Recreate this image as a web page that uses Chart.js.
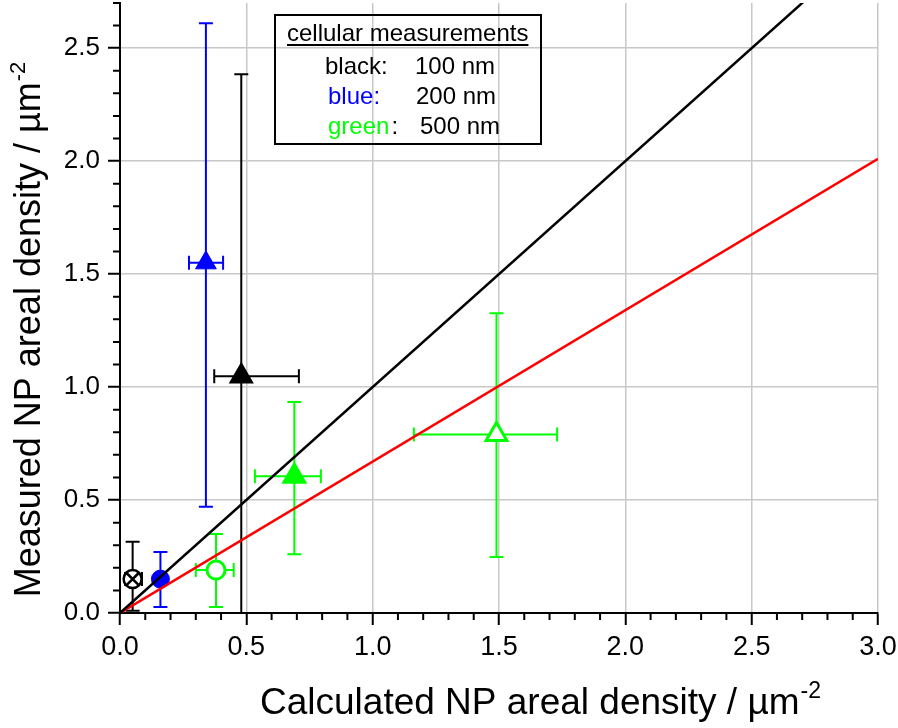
<!DOCTYPE html>
<html>
<head>
<meta charset="utf-8">
<script src="https://cdn.jsdelivr.net/npm/chart.js@4.4.1/dist/chart.umd.min.js"></script>
<style>
  html, body { margin: 0; padding: 0; background: #fff; }
  #wrap { width: 898px; height: 728px; }
</style>
</head>
<body>
<div id="wrap"><canvas id="myChart" width="898" height="728"></canvas></div>
<script>
// reference lines
const lineX = [0, 3.0];
const unityY = [0, 3.0];
const fitY = [0, 2.01];

// black: 100 nm
const blackX = [0.05, 0.48];
const blackY = [0.15, 1.048];
const blackXLo = [0.02, 0.373];
const blackXHi = [0.087, 0.708];
const blackYLo = [0.01, 0.0];
const blackYHi = [0.315, 2.385];

// blue: 200 nm
const blueX = [0.16, 0.34];
const blueY = [0.15, 1.55];
const blueXLo = [0.16, 0.273];
const blueXHi = [0.16, 0.408];
const blueYLo = [0.027, 0.47];
const blueYHi = [0.27, 2.61];

// green: 500 nm
const greenX = [0.38, 0.69, 1.49];
const greenY = [0.19, 0.605, 0.79];
const greenXLo = [0.30, 0.534, 1.163];
const greenXHi = [0.45, 0.795, 1.73];
const greenYLo = [0.027, 0.26, 0.248];
const greenYHi = [0.35, 0.934, 1.327];

const xTicks = [0, 0.5, 1.0, 1.5, 2.0, 2.5, 3.0];
const yTicks = [0, 0.5, 1.0, 1.5, 2.0, 2.5];

const FONT = "'Liberation Sans', Arial, sans-serif";

function pts(xs, ys) {
    return xs.map((x, i) => ({ x: x, y: ys[i] }));
}

// error bars, drawn under the markers
const errorBars = {
    id: 'errorBars',
    beforeDatasetsDraw(chart) {
        const ctx = chart.ctx;
        const xs = chart.scales.x, ys = chart.scales.y;
        chart.data.datasets.forEach(ds => {
            if (!ds.errors) return;
            const e = ds.errors;
            ctx.save();
            ctx.strokeStyle = ds.borderColor;
            ctx.lineWidth = 2;
            ds.data.forEach((p, i) => {
                const px = xs.getPixelForValue(p.x);
                const py = ys.getPixelForValue(p.y);
                const cap = 7;
                // vertical
                const yl = ys.getPixelForValue(e.yLo[i]);
                const yh = ys.getPixelForValue(e.yHi[i]);
                ctx.beginPath();
                ctx.moveTo(px, yl); ctx.lineTo(px, yh);
                ctx.moveTo(px - cap, yl); ctx.lineTo(px + cap, yl);
                ctx.moveTo(px - cap, yh); ctx.lineTo(px + cap, yh);
                ctx.stroke();
                // horizontal
                if (e.xHi[i] - e.xLo[i] > 0.001) {
                    const xl = xs.getPixelForValue(e.xLo[i]);
                    const xh = xs.getPixelForValue(e.xHi[i]);
                    ctx.beginPath();
                    ctx.moveTo(xl, py); ctx.lineTo(xh, py);
                    ctx.moveTo(xl, py - cap); ctx.lineTo(xl, py + cap);
                    ctx.moveTo(xh, py - cap); ctx.lineTo(xh, py + cap);
                    ctx.stroke();
                }
            });
            ctx.restore();
        });
    }
};

// minor ticks every 0.1, titles with superscript, legend box
const decorations = {
    id: 'decorations',
    afterDraw(chart) {
        const ctx = chart.ctx;
        const xs = chart.scales.x, ys = chart.scales.y;
        const area = chart.chartArea;
        ctx.save();
        ctx.strokeStyle = '#000';
        ctx.lineWidth = 2;
        ctx.beginPath();
        for (let k = 1; k < 30; k++) {
            if (k % 5 === 0) continue;
            const px = xs.getPixelForValue(k / 10);
            ctx.moveTo(px, area.bottom); ctx.lineTo(px, area.bottom + 7);
        }
        for (let k = 1; k < 28; k++) {
            if (k % 5 === 0) continue;
            const py = ys.getPixelForValue(k / 10);
            ctx.moveTo(area.left, py); ctx.lineTo(area.left - 7, py);
        }
        ctx.stroke();

        // axis titles
        ctx.fillStyle = '#000';
        ctx.textBaseline = 'alphabetic';
        ctx.textAlign = 'left';
        function drawTitle(t, x0, y0, size) {
            const mainFont = size + 'px ' + FONT, supFont = Math.round(size * 0.62) + 'px ' + FONT;
            ctx.font = mainFont; const a = ctx.measureText(t).width;
            ctx.font = supFont; const b = ctx.measureText('-2').width;
            const start = x0 - (a + b) / 2;
            ctx.font = mainFont; ctx.fillText(t, start, y0);
            ctx.font = supFont; ctx.fillText('-2', start + a + 1, y0 - size * 0.42);
        }
        drawTitle('Calculated NP areal density / \u00b5m', 540, 714, 37);
        ctx.save();
        ctx.translate(40, 330);
        ctx.rotate(-Math.PI / 2);
        drawTitle('Measured NP areal density / \u00b5m', 0, 0, 36);
        ctx.restore();

        // legend box
        ctx.lineWidth = 2;
        ctx.strokeRect(275, 15, 266, 129);
        ctx.font = '24px ' + FONT;
        ctx.fillStyle = '#000';
        ctx.fillText('cellular measurements', 287, 41);
        const uw = ctx.measureText('cellular measurements').width;
        ctx.fillRect(287, 44, uw, 2);
        ctx.fillText('black:', 325, 74);
        ctx.fillText('100 nm', 415, 74);
        ctx.fillStyle = '#0000ff';
        ctx.fillText('blue:', 328, 104);
        ctx.fillStyle = '#000';
        ctx.fillText('200 nm', 416, 104);
        ctx.fillStyle = '#00ff00';
        ctx.fillText('green', 328, 134);
        const gw = ctx.measureText('green').width;
        ctx.fillStyle = '#000';
        ctx.fillText(':', 328 + gw + 2, 134);
        ctx.fillText('500 nm', 420, 134);
        ctx.restore();
    }
};

function loadChart() {
    const ctx = document.getElementById('myChart').getContext('2d');
    new Chart(ctx, {
        type: 'scatter',
        data: {
            datasets: [
                {
                    data: pts(lineX, unityY), showLine: true, pointRadius: 0,
                    borderColor: '#000', borderWidth: 2.5, clip: 0
                },
                {
                    data: pts(lineX, fitY), showLine: true, pointRadius: 0,
                    borderColor: '#ff0000', borderWidth: 2.5, clip: 0
                },
                {
                    data: pts([blackX[0]], [blackY[0]]), pointStyle: 'crossRot',
                    pointRadius: 9, borderColor: '#000', borderWidth: 2.5
                },
                {
                    data: pts(blackX, blackY),
                    pointStyle: ['circle', 'triangle'], pointRadius: [9, 12],
                    backgroundColor: ['#fff', '#000'], borderColor: '#000', borderWidth: 2.5,
                    errors: { xLo: blackXLo, xHi: blackXHi, yLo: blackYLo, yHi: blackYHi }
                },
                {
                    data: pts(blueX, blueY),
                    pointStyle: ['circle', 'triangle'], pointRadius: [9, 12],
                    backgroundColor: '#0000ff', borderColor: '#0000ff', borderWidth: 1,
                    errors: { xLo: blueXLo, xHi: blueXHi, yLo: blueYLo, yHi: blueYHi }
                },
                {
                    data: pts(greenX, greenY),
                    pointStyle: ['circle', 'triangle', 'triangle'], pointRadius: [9, 12, 12],
                    backgroundColor: ['#fff', '#00ff00', '#fff'], borderColor: '#00ff00', borderWidth: 3,
                    errors: { xLo: greenXLo, xHi: greenXHi, yLo: greenYLo, yHi: greenYHi }
                }
            ]
        },
        options: {
            responsive: false,
            animation: false,
            devicePixelRatio: 1,
            layout: { autoPadding: false, padding: { left: 0, top: 3, right: 20, bottom: 0 } },
            plugins: {
                legend: { display: false },
                tooltip: { enabled: false }
            },
            scales: {
                x: {
                    type: 'linear', min: 0, max: 3,
                    afterBuildTicks: s => { s.ticks = xTicks.map(v => ({ value: v })); },
                    afterFit: s => { s.height = 115; s.paddingLeft = 0; s.paddingRight = 0; },
                    ticks: {
                        color: '#000', font: { family: FONT, size: 27 }, padding: 6,
                        maxRotation: 0, autoSkip: false,
                        callback: v => Number(v).toFixed(1)
                    },
                    grid: { color: '#c8c8c8', lineWidth: 1.5, tickColor: '#000', tickLength: 12, tickWidth: 2 },
                    border: { color: '#000', width: 2 }
                },
                y: {
                    type: 'linear', min: 0, max: 2.7,
                    afterBuildTicks: s => { s.ticks = yTicks.map(v => ({ value: v })); },
                    afterFit: s => { s.width = 120; s.paddingTop = 0; s.paddingBottom = 0; },
                    ticks: {
                        color: '#000', font: { family: FONT, size: 26 }, padding: 8,
                        autoSkip: false,
                        callback: v => Number(v).toFixed(1)
                    },
                    grid: { color: '#c8c8c8', lineWidth: 1.5, tickColor: '#000', tickLength: 12, tickWidth: 2 },
                    border: { color: '#000', width: 2 }
                }
            }
        },
        plugins: [errorBars, decorations]
    });
}

window.onload = () => {
    loadChart();
};
</script>
</body>
</html>
